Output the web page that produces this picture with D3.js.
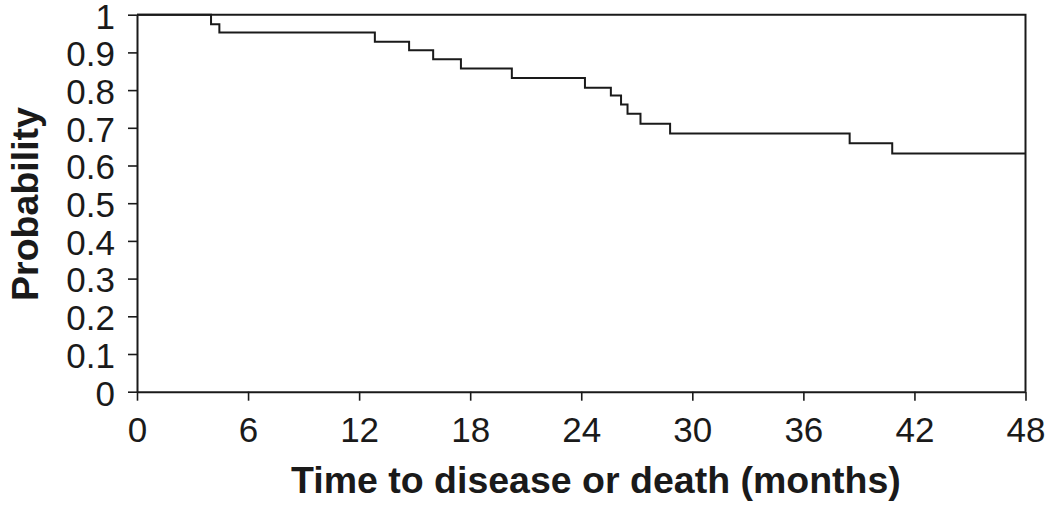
<!DOCTYPE html>
<html><head><meta charset="utf-8">
<script src="https://cdn.jsdelivr.net/npm/d3@7"></script>
<style>body{margin:0;background:#fff;} svg{display:block;}</style>
</head><body>
<svg id="chart" width="1050" height="514"></svg>
<script>
// Kaplan-Meier step data: event times (months) and survival after each event
const stepTimes = [0, 4.0, 4.45, 12.85, 14.7, 16.0, 17.5, 20.25, 24.2, 25.6, 26.15, 26.5, 27.2, 28.8, 38.5, 40.8];
const stepProbs = [1.0, 0.975, 0.953, 0.928, 0.906, 0.882, 0.857, 0.832, 0.806, 0.786, 0.762, 0.737, 0.711, 0.685, 0.659, 0.632];
const endTime = 48;
const xTicks = [0, 6, 12, 18, 24, 30, 36, 42, 48];
const yTicks = [0, 0.1, 0.2, 0.3, 0.4, 0.5, 0.6, 0.7, 0.8, 0.9, 1];
const xTitle = "Time to disease or death (months)";
const yTitle = "Probability";

const svg = d3.select("#chart");
const L = 137, R = 1025.5, T = 14.7, B = 391.7;
const x = d3.scaleLinear().domain([0, 48]).range([L, R]);
const y = d3.scaleLinear().domain([0, 1]).range([B, T]);
const font = "'Liberation Sans', Arial, Helvetica, sans-serif";
const ink = "#1a1a1a";

// frame (top and right)
svg.append("path")
  .attr("d", `M${L},${T}H${R}V${B}`)
  .attr("fill", "none").attr("stroke", ink).attr("stroke-width", 2);

// axes
const xAxis = svg.append("g").attr("transform", `translate(0,${B})`)
  .call(d3.axisBottom(x).tickValues(xTicks).tickSize(9).tickPadding(16).tickSizeOuter(0));
const yAxis = svg.append("g").attr("transform", `translate(${L},0)`)
  .call(d3.axisLeft(y).tickValues(yTicks).tickSize(9).tickPadding(13).tickSizeOuter(0)
    .tickFormat(d => d === 0 ? "0" : d === 1 ? "1" : d3.format(".1f")(d)));
[xAxis, yAxis].forEach(g => {
  g.select(".domain").attr("stroke", ink).attr("stroke-width", 2);
  g.selectAll(".tick line").attr("stroke", ink).attr("stroke-width", 1.6);
  g.selectAll(".tick text").attr("fill", ink).style("font-family", font).style("font-size", "35px");
});
yAxis.selectAll(".tick text").attr("dy", "0.38em");

// step curve
const pts = stepTimes.map((t, i) => [t, stepProbs[i]]);
pts.push([endTime, stepProbs[stepProbs.length - 1]]);
const line = d3.line().x(d => x(d[0])).y(d => y(d[1])).curve(d3.curveStepAfter);
svg.append("path").datum(pts)
  .attr("d", line).attr("fill", "none").attr("stroke", ink).attr("stroke-width", 2);

// titles
svg.append("text").attr("x", 291).attr("y", 493)
  .attr("text-anchor", "start").style("font-family", font).style("font-size", "37.5px")
  .style("font-weight", "bold").attr("fill", ink).text(xTitle);
svg.append("text").attr("transform", `translate(38,204) rotate(-90)`)
  .attr("text-anchor", "middle").style("font-family", font).style("font-size", "37.5px")
  .style("font-weight", "bold").attr("fill", ink).text(yTitle);
</script>
</body></html>
